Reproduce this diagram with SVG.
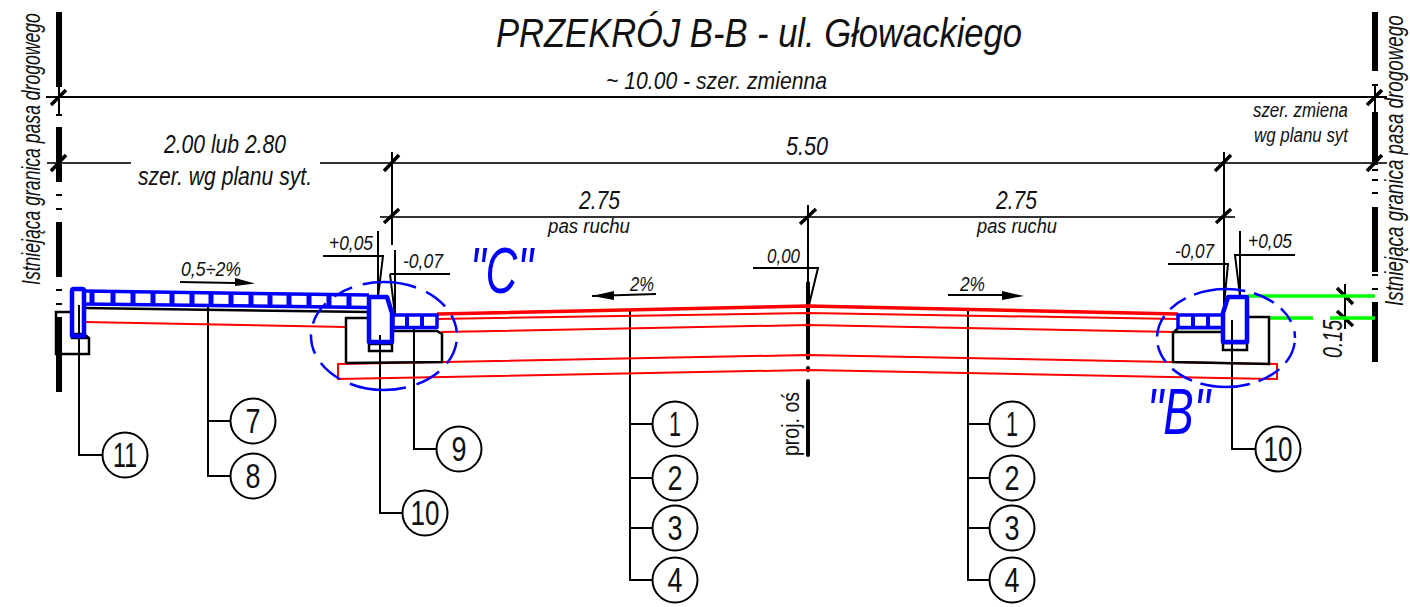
<svg xmlns="http://www.w3.org/2000/svg" width="1410" height="607" viewBox="0 0 1410 607">
<style>
text{font-family:"Liberation Sans",Arial,sans-serif;fill:#111;font-style:italic}
.n{font-style:normal;font-size:35px;text-anchor:middle}
.c{fill:#fff;stroke:#000;stroke-width:2}
.k{fill:none;stroke:#000;stroke-width:2}
.d{fill:none;stroke:#333;stroke-width:2}
.t{fill:none;stroke:#000;stroke-width:3.5}
.b{fill:none;stroke:#000;stroke-width:6}
.bl{fill:none;stroke:#00f;stroke-width:4.5;stroke-linejoin:round}
.bh{fill:none;stroke:#00f;stroke-width:3.5;stroke-linejoin:round}
.bv{fill:none;stroke:#00f;stroke-width:5}
.e{fill:none;stroke:#00f;stroke-width:2.5}
.r{fill:none;stroke:#f00;stroke-width:2}
.rt{fill:none;stroke:#f00;stroke-width:3.5}
.g{fill:none;stroke:#0f0;stroke-width:3.5}
.big{fill:#00f;font-size:64px}
</style>
<g id="title"><text x="496" y="47" font-size="41" textLength="526" lengthAdjust="spacingAndGlyphs">PRZEKRÓJ B-B - ul. Głowackiego</text></g>
<g id="boundary-left">
<path class="b" d="M59 12V87M59 127V182M59 222V277M59 317V392"/>
<path class="k" d="M56 195h6M56 209h6M56 290h6M56 304h6M59 87V115M56 115h6" stroke-width="1"/>
<text transform="translate(40,285) rotate(-90) scale(.704,1)" font-size="25">Istniejąca granica pasa drogowego</text>
</g>
<g id="boundary-right">
<path class="b" d="M1375 12V71M1375 112V165M1375 207V272M1375 302V362"/>
<path class="k" d="M1372 85h6M1375 85V112M1372 170h6M1372 180h6M1372 193h6M1372 275h6M1372 289h6" stroke-width="1"/>
<text transform="translate(1403,306) rotate(-90) scale(.753,1)" font-size="25">Istniejąca granica pasa drogowego</text>
</g>
<g id="connectors">
<path class="k" d="M46 97H1387M392 152V245M808 205V300M1224 152V305M1345 284V329"/>
<path class="d" d="M47 163H131M320 163H1387M380 217H1235"/>
<path class="t" d="M51 105L66 90M51 171L66 155M384 171L399 155M384 223L399 209M800 224L816 209M1215 171L1231 155M1216 223L1231 209M1367 105L1382 90M1367 171L1382 155M1337 288L1353 304M1337 311L1353 326"/>
<path class="k" d="M79 305V455H102M208 306V476H231M208 421H231M380 335V513H403M414 328V449H437M630 310V580H653M630 424H653M630 478H653M630 528H653M968 310V580H990M968 424H990M968 478H990M968 528H990M1232 320V449H1255"/>
<path class="k" d="M323 256H383L378 297V231M390 274H450M390 274L395 315V250M1168 264H1228L1224 305M1295 255H1235L1240 296V231M753 268H818L809 305"/>
<path class="t" stroke-linecap="round" d="M808 283V358M808 368V370M808 381V455" style="stroke-width:4"/>
<path class="k" d="M180 282L235 283M948 295L1004 295M592 296L656 294"/>
<path fill="#000" d="M235 278L255 283.5L235 286ZM1024 296L1002 291V300ZM592 296L614 291V300Z"/>
</g>
<g id="pavement">
<path class="rt" d="M437 314L808 306L1178 314"/>
<path class="r" d="M437 319L808 313L1178 319M441 332L808 325L1175 332"/>
<path class="r" d="M338 364L808 355L1277 364V379L808 370L338 379Z"/>
<path class="r" d="M84 322L346 327"/>
<path class="g" d="M1248 296H1375M1270 318H1313M1330 318H1375"/>
</g>
<g id="structure-left">
<path class="k" d="M84 308L369 312M72 312H56V354H89V338L84 334H72V338H89M346 363V318H369" style="stroke-width:2.5"/>
<path class="k" d="M346 363L442 362V334L437 331H392M369 344H392V351H369Z" style="stroke-width:2.5"/>
<path class="bl" d="M72 336V291Q72 289 74 289H82Q84 289 84 291V336Z"/>
<path class="bh" d="M84 291L369 295M84 304L369 307.5"/>
<path class="bv" d="M92 291V304M113 291V304M133 292V305M153 292V305M172 292V305M192 293V305M211 293V306M231 293V306M251 294V306M270 294V306M289 294V306M309 295V307M329 295V307M349 295V307"/>
<path class="bl" d="M369 297H387L392 313V342H369Z"/>
<path class="bh" d="M393 315H437V327.5H393Z"/>
<path class="bv" d="M407 315V328M422 315V328" style="stroke-width:4"/>
</g>
<g id="structure-right">
<path class="k" d="M1247 317H1269V364L1173 362V333L1178 328H1223V332H1175M1223 343H1247V350H1223Z" style="stroke-width:2.5"/>
<path class="bl" d="M1228 297H1247V342H1223V313Z"/>
<path class="bh" d="M1178 315H1223V327.5H1178Z"/>
<path class="bv" d="M1193 315V328M1208 315V328" style="stroke-width:4"/>
</g>
<g id="detail-c"><ellipse class="e" cx="384" cy="336" rx="73" ry="54" stroke-dasharray="0 6 24 11 26 11 57 11 25 11 20 11 24 11 20 11 54 11 24 11 18 5"/><text class="big" x="470" y="293" textLength="63" lengthAdjust="spacingAndGlyphs">"C"</text></g>
<g id="detail-b"><ellipse class="e" cx="1226" cy="338" rx="69" ry="49" stroke-dasharray="0 5 22 9 24 9 50 9 23 9 19 9 22 9 19 9 52 9 22 9 17 5"/><text class="big" x="1147" y="434" textLength="63" lengthAdjust="spacingAndGlyphs">"B"</text></g>
<g id="labels">
<text x="606" y="89" font-size="24" textLength="221" lengthAdjust="spacingAndGlyphs">~ 10.00 - szer. zmienna</text>
<text x="164" y="153" font-size="26" textLength="122" lengthAdjust="spacingAndGlyphs">2.00 lub 2.80</text>
<text x="138" y="185" font-size="26" textLength="174" lengthAdjust="spacingAndGlyphs">szer. wg planu syt.</text>
<text x="786" y="155" font-size="26" textLength="42" lengthAdjust="spacingAndGlyphs">5.50</text>
<text x="579" y="209" font-size="26" textLength="41" lengthAdjust="spacingAndGlyphs">2.75</text>
<text x="996" y="209" font-size="26" textLength="41" lengthAdjust="spacingAndGlyphs">2.75</text>
<text x="548" y="233" font-size="20" textLength="82" lengthAdjust="spacingAndGlyphs">pas ruchu</text>
<text x="977" y="233" font-size="20" textLength="80" lengthAdjust="spacingAndGlyphs">pas ruchu</text>
<text x="1253" y="117" font-size="20" textLength="95" lengthAdjust="spacingAndGlyphs">szer. zmiena</text>
<text x="1254" y="142" font-size="20" textLength="94" lengthAdjust="spacingAndGlyphs">wg planu syt</text>
<text x="329" y="250" font-size="20" textLength="44" lengthAdjust="spacingAndGlyphs">+0,05</text>
<text x="403" y="268" font-size="20" textLength="40" lengthAdjust="spacingAndGlyphs">-0,07</text>
<text x="1175" y="258" font-size="20" textLength="39" lengthAdjust="spacingAndGlyphs">-0,07</text>
<text x="1248" y="248" font-size="20" textLength="44" lengthAdjust="spacingAndGlyphs">+0,05</text>
<text x="767" y="263" font-size="20" textLength="33" lengthAdjust="spacingAndGlyphs">0,00</text>
<text x="181" y="276" font-size="20" textLength="60" lengthAdjust="spacingAndGlyphs">0,5÷2%</text>
<text x="630" y="291" font-size="20" textLength="24" lengthAdjust="spacingAndGlyphs">2%</text>
<text x="960" y="291" font-size="20" textLength="25" lengthAdjust="spacingAndGlyphs">2%</text>
<text transform="translate(1342,358) rotate(-90)" font-size="28" textLength="38" lengthAdjust="spacingAndGlyphs">0.15</text>
<text transform="translate(799,456) rotate(-90)" font-size="23" style="font-style:normal" textLength="64" lengthAdjust="spacingAndGlyphs">proj. oś</text>
</g>
<g id="n11"><circle class="c" cx="125" cy="455" r="22.5"/><text class="n" x="125" y="467" textLength="24" lengthAdjust="spacingAndGlyphs">11</text></g>
<g id="n7"><circle class="c" cx="253" cy="421" r="22.5"/><text class="n" x="253" y="433" textLength="15" lengthAdjust="spacingAndGlyphs">7</text></g>
<g id="n8"><circle class="c" cx="253" cy="476" r="22.5"/><text class="n" x="253" y="488" textLength="15" lengthAdjust="spacingAndGlyphs">8</text></g>
<g id="n10a"><circle class="c" cx="425" cy="513" r="22.5"/><text class="n" x="425" y="525" textLength="29" lengthAdjust="spacingAndGlyphs">10</text></g>
<g id="n9"><circle class="c" cx="459" cy="449" r="22.5"/><text class="n" x="459" y="461" textLength="15" lengthAdjust="spacingAndGlyphs">9</text></g>
<g id="n1a"><circle class="c" cx="675" cy="424" r="22.5"/><text class="n" x="675" y="436" textLength="12" lengthAdjust="spacingAndGlyphs">1</text></g>
<g id="n2a"><circle class="c" cx="675" cy="478" r="22.5"/><text class="n" x="675" y="490" textLength="15" lengthAdjust="spacingAndGlyphs">2</text></g>
<g id="n3a"><circle class="c" cx="675" cy="528" r="22.5"/><text class="n" x="675" y="540" textLength="15" lengthAdjust="spacingAndGlyphs">3</text></g>
<g id="n4a"><circle class="c" cx="675" cy="580" r="22.5"/><text class="n" x="675" y="592" textLength="15" lengthAdjust="spacingAndGlyphs">4</text></g>
<g id="n1b"><circle class="c" cx="1012" cy="424" r="22.5"/><text class="n" x="1012" y="436" textLength="12" lengthAdjust="spacingAndGlyphs">1</text></g>
<g id="n2b"><circle class="c" cx="1012" cy="478" r="22.5"/><text class="n" x="1012" y="490" textLength="15" lengthAdjust="spacingAndGlyphs">2</text></g>
<g id="n3b"><circle class="c" cx="1012" cy="528" r="22.5"/><text class="n" x="1012" y="540" textLength="15" lengthAdjust="spacingAndGlyphs">3</text></g>
<g id="n4b"><circle class="c" cx="1012" cy="580" r="22.5"/><text class="n" x="1012" y="592" textLength="15" lengthAdjust="spacingAndGlyphs">4</text></g>
<g id="n10b"><circle class="c" cx="1278" cy="449" r="22.5"/><text class="n" x="1278" y="461" textLength="29" lengthAdjust="spacingAndGlyphs">10</text></g>
</svg>
